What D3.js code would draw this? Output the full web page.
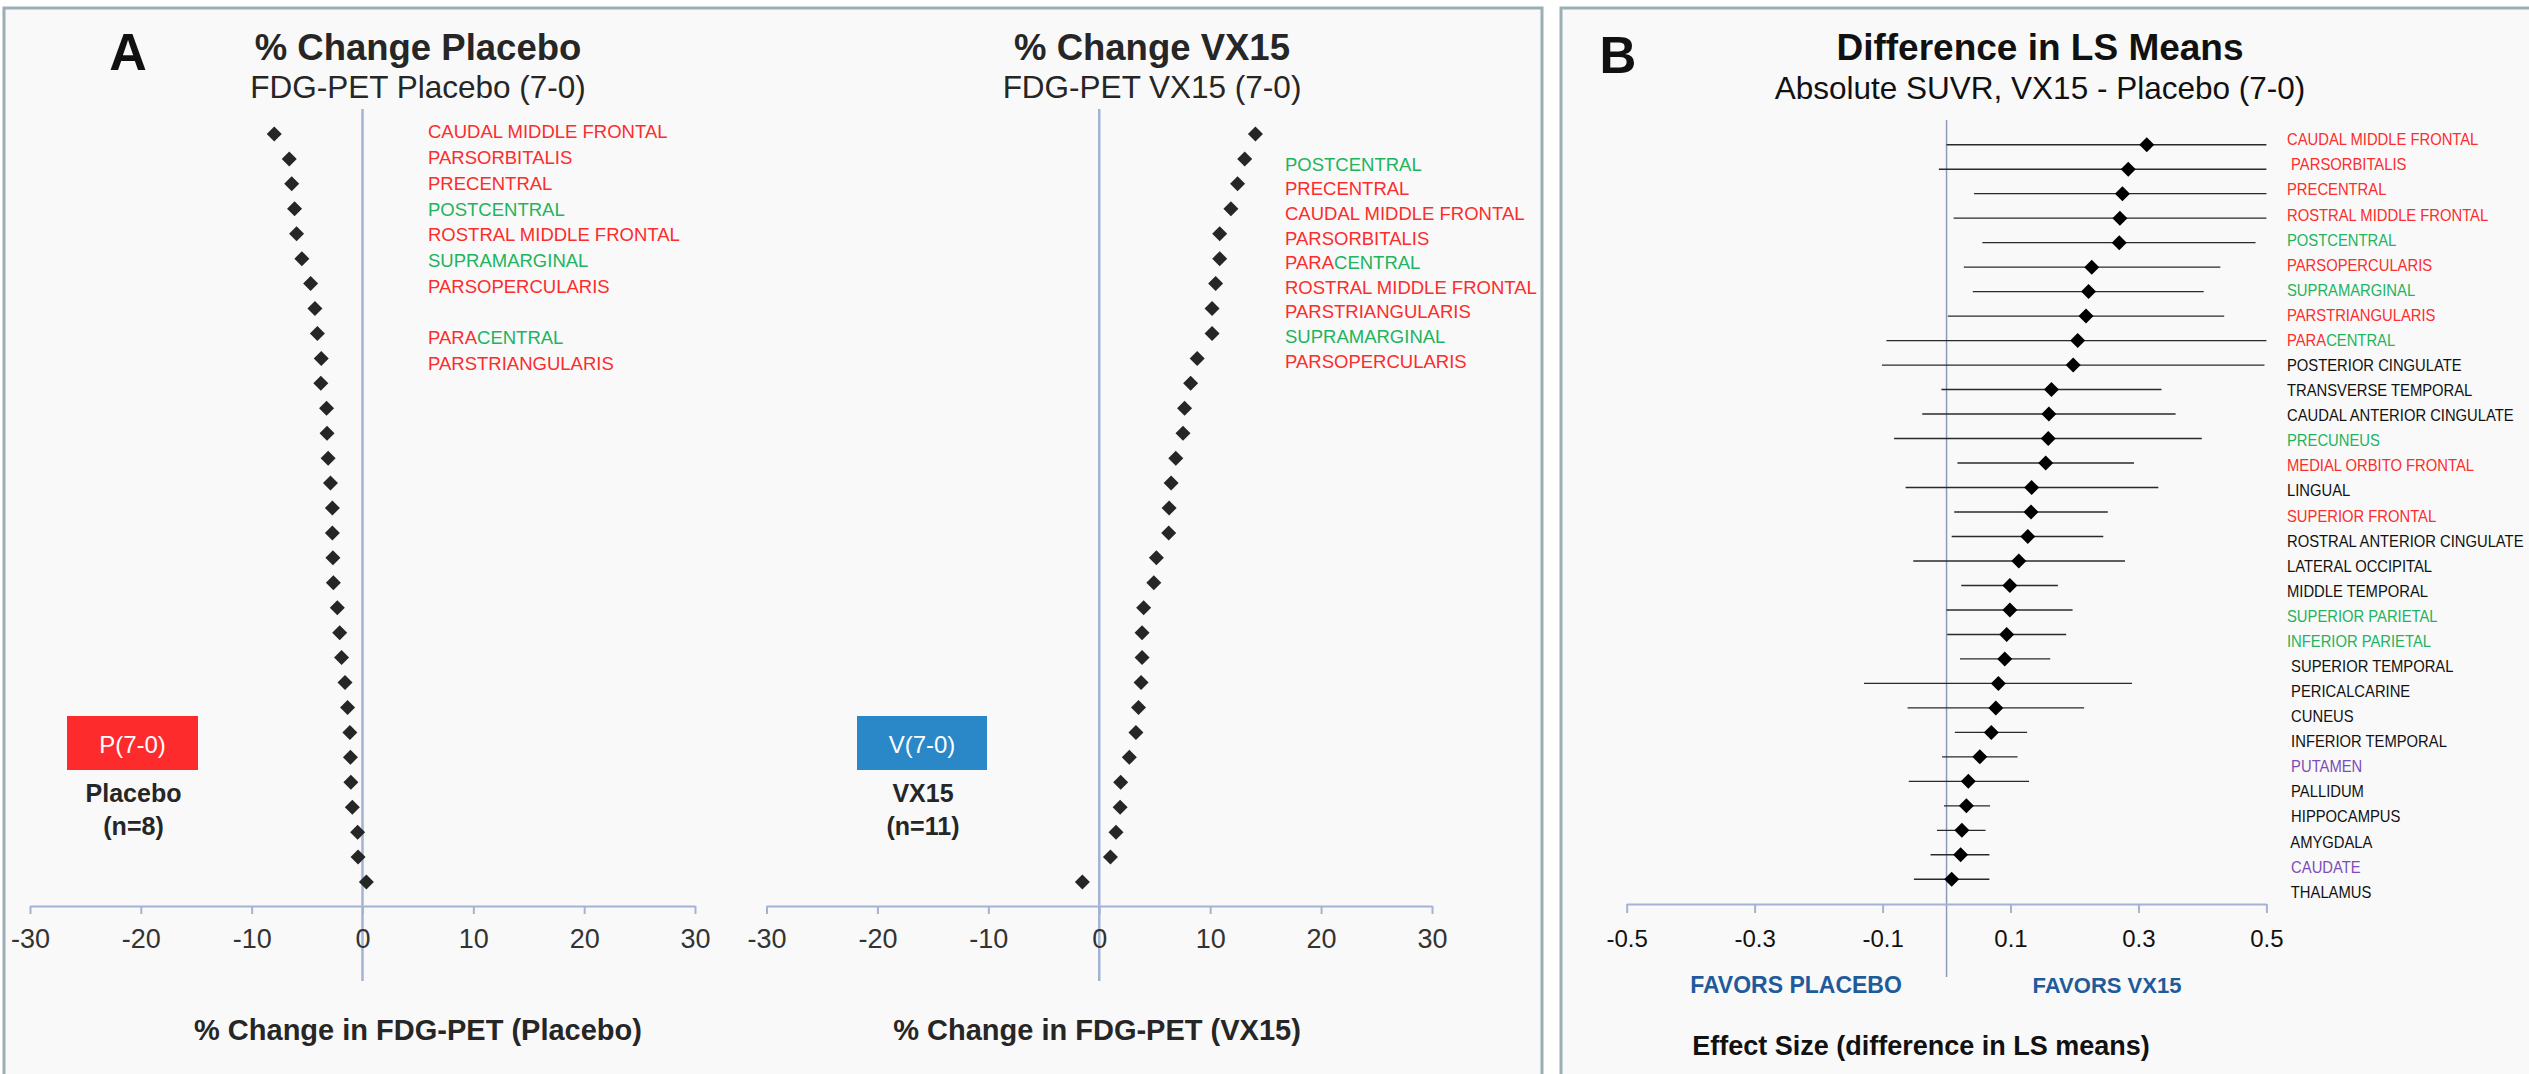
<!DOCTYPE html>
<html>
<head>
<meta charset="utf-8">
<script src="https://cdn.jsdelivr.net/npm/d3@7"></script>
<style>
  body { margin: 0; background: #fff; }
  text { font-family: "Liberation Sans", Arial, sans-serif; }
</style>
</head>
<body>
<svg id="chart"></svg>
<script>
// ---- data ----
// panel A, % change per region, sorted (31 regions)
const placeboChange = [-7.96, -6.61, -6.39, -6.13, -5.95, -5.47, -4.68, -4.29, -4.07, -3.72, -3.76,
  -3.24, -3.20, -3.10, -2.89, -2.72, -2.72, -2.67, -2.63, -2.27, -2.06, -1.89, -1.58, -1.35,
  -1.14, -1.09, -1.05, -0.92, -0.44, -0.40, 0.35];
const vx15Change = [14.08, 13.11, 12.47, 11.87, 10.86, 10.86, 10.49, 10.17, 10.17, 8.83, 8.24, 7.69,
  7.55, 6.90, 6.48, 6.30, 6.26, 5.15, 4.92, 4.00, 3.86, 3.86, 3.77, 3.54, 3.31, 2.71, 1.93,
  1.88, 1.51, 1.01, -1.52];

// labels shown next to the top rows of panel A
const placeboLabelRows = [0, 1, 2, 3, 4, 5, 6, 8, 9];
const placeboLabels = ["CAUDAL MIDDLE FRONTAL", "PARSORBITALIS", "PRECENTRAL", "POSTCENTRAL",
  "ROSTRAL MIDDLE FRONTAL", "SUPRAMARGINAL", "PARSOPERCULARIS", "PARACENTRAL", "PARSTRIANGULARIS"];
const vx15LabelRows = [1, 2, 3, 4, 5, 6, 7, 8, 9];
const vx15Labels = ["POSTCENTRAL", "PRECENTRAL", "CAUDAL MIDDLE FRONTAL", "PARSORBITALIS",
  "PARACENTRAL", "ROSTRAL MIDDLE FRONTAL", "PARSTRIANGULARIS", "SUPRAMARGINAL", "PARSOPERCULARIS"];

// panel B, difference in LS means (VX15 - placebo) with interval
const regionsB = ["CAUDAL MIDDLE FRONTAL", " PARSORBITALIS", "PRECENTRAL", "ROSTRAL MIDDLE FRONTAL",
  "POSTCENTRAL", "PARSOPERCULARIS", "SUPRAMARGINAL", "PARSTRIANGULARIS", "PARACENTRAL",
  "POSTERIOR CINGULATE", "TRANSVERSE TEMPORAL", "CAUDAL ANTERIOR CINGULATE", "PRECUNEUS",
  "MEDIAL ORBITO FRONTAL", "LINGUAL", "SUPERIOR FRONTAL", "ROSTRAL ANTERIOR CINGULATE",
  "LATERAL OCCIPITAL", "MIDDLE TEMPORAL", "SUPERIOR PARIETAL", "INFERIOR PARIETAL",
  " SUPERIOR TEMPORAL", " PERICALCARINE", " CUNEUS", " INFERIOR TEMPORAL", " PUTAMEN",
  " PALLIDUM", " HIPPOCAMPUS", " AMYGDALA", " CAUDATE", " THALAMUS"];
const lsMeanDiff = [0.313, 0.284, 0.275, 0.271, 0.270, 0.227, 0.222, 0.218, 0.205, 0.198, 0.164,
  0.160, 0.159, 0.155, 0.133, 0.132, 0.127, 0.113, 0.099, 0.099, 0.094, 0.091, 0.081, 0.077,
  0.070, 0.052, 0.034, 0.031, 0.024, 0.022, 0.008];
const ciLow = [0.000, -0.012, 0.043, 0.011, 0.056, 0.027, 0.041, 0.002, -0.094, -0.101, -0.008,
  -0.038, -0.082, 0.017, -0.064, 0.012, 0.008, -0.052, 0.023, 0.000, 0.001, 0.021, -0.129,
  -0.061, 0.013, -0.007, -0.059, -0.004, -0.015, -0.025, -0.051];
const ciHigh = [0.50, 0.50, 0.50, 0.50, 0.483, 0.428, 0.402, 0.434, 0.50, 0.497, 0.336, 0.358,
  0.399, 0.293, 0.331, 0.252, 0.245, 0.279, 0.174, 0.197, 0.187, 0.162, 0.290, 0.215, 0.126,
  0.111, 0.129, 0.068, 0.061, 0.067, 0.067];

const ticksA = [-30, -20, -10, 0, 10, 20, 30];
const ticksB = [-0.5, -0.3, -0.1, 0.1, 0.3, 0.5];

// region colour groups
const frontal = ["CAUDAL MIDDLE FRONTAL", "PARSORBITALIS", "PRECENTRAL", "ROSTRAL MIDDLE FRONTAL",
  "PARSOPERCULARIS", "PARSTRIANGULARIS", "MEDIAL ORBITO FRONTAL", "SUPERIOR FRONTAL"];
const parietal = ["POSTCENTRAL", "SUPRAMARGINAL", "PRECUNEUS", "SUPERIOR PARIETAL", "INFERIOR PARIETAL"];
const basal = ["PUTAMEN", "CAUDATE"];

const RED = "#fb2d2d", GREEN = "#22b35e", PURPLE = "#7d4cb8", INK = "#262626";
const AXIS = "#a4b3d3";

// ---- canvas ----
const W = 2529, H = 1074;
const svg = d3.select("#chart").attr("width", W).attr("height", H);
svg.append("rect").attr("width", W).attr("height", H).attr("fill", "#fff");

// panels with border on left / top / right
svg.append("rect").attr("x", 4).attr("y", 8).attr("width", 1538).attr("height", H).attr("fill", "#f9f9f9");
svg.append("rect").attr("x", 1561).attr("y", 8).attr("width", W - 1561).attr("height", H).attr("fill", "#f9f9f9");
svg.append("path").attr("d", `M4,${H}V8H1542V${H}`).attr("fill", "none").attr("stroke", "#9cadb5").attr("stroke-width", 3);
svg.append("path").attr("d", `M1561,${H}V8H${W + 5}`).attr("fill", "none").attr("stroke", "#9cadb5").attr("stroke-width", 3);

const diamond = "M0,-7.5L7.5,0L0,7.5L-7.5,0Z";

function colourOf(name) {
  const n = name.trim();
  if (frontal.includes(n)) return RED;
  if (parietal.includes(n)) return GREEN;
  if (basal.includes(n)) return PURPLE;
  return "#111";
}

// writes a region name, PARACENTRAL gets split colours
function regionText(sel) {
  sel.each(function (d) {
    const t = d3.select(this);
    const name = d.name;
    if (name.trim() === "PARACENTRAL") {
      const lead = name.slice(0, name.indexOf("P"));
      t.append("tspan").attr("fill", RED).text(lead + "PARA");
      t.append("tspan").attr("fill", GREEN).text("CENTRAL");
    } else {
      t.attr("fill", colourOf(name)).text(name);
    }
  });
}

// ---- panel A ----
const rowsA = d3.scalePoint().domain(d3.range(31)).range([134, 882]);

function changePanel(opt) {
  const x = d3.scaleLinear().domain([-30, 30]).range(opt.range);
  const g = svg.append("g");

  // zero line
  g.append("line")
    .attr("x1", x(0)).attr("x2", x(0)).attr("y1", 109).attr("y2", 981)
    .attr("stroke", AXIS).attr("stroke-width", 2.5);

  // axis
  const ax = g.append("g").attr("transform", "translate(0,906)")
    .call(d3.axisBottom(x).tickValues(ticksA).tickFormat(d => String(d))
      .tickSizeOuter(0).tickSizeInner(8).tickPadding(15));
  ax.select(".domain").attr("stroke", AXIS).attr("stroke-width", 2);
  ax.selectAll(".tick line").attr("stroke", AXIS).attr("stroke-width", 2);
  ax.selectAll(".tick text").attr("font-size", 27).attr("fill", "#333")
    .attr("font-family", "Liberation Sans, Arial, sans-serif");

  // points
  g.selectAll("path.pt").data(opt.values).join("path").attr("class", "pt")
    .attr("d", diamond)
    .attr("transform", (d, i) => `translate(${x(d)},${rowsA(i)})`)
    .attr("fill", INK);

  // labels
  const ly = d3.scalePoint().domain(d3.range(31)).range(opt.labelRange);
  g.selectAll("text.lab").data(opt.labels.map((n, i) => ({ name: n, row: opt.labelRows[i] })))
    .join("text").attr("class", "lab")
    .attr("x", opt.labelX).attr("y", d => ly(d.row) + 6.7)
    .attr("font-size", 18.5)
    .call(regionText);

  // titles
  g.append("text").attr("x", opt.titleX).attr("y", 60).attr("text-anchor", "middle")
    .attr("font-size", 36.5).attr("font-weight", "bold").attr("fill", INK).text(opt.title);
  g.append("text").attr("x", opt.titleX).attr("y", 98).attr("text-anchor", "middle")
    .attr("font-size", 31.5).attr("fill", INK).text(opt.subtitle);
  g.append("text").attr("x", opt.xTitleX).attr("y", 1040).attr("text-anchor", "middle")
    .attr("font-size", 29).attr("font-weight", "bold").attr("fill", INK).text(opt.xTitle);

  // group badge
  g.append("rect").attr("x", opt.box[0]).attr("y", 716).attr("width", opt.box[1] - opt.box[0])
    .attr("height", 54).attr("fill", opt.boxColour);
  const bx = (opt.box[0] + opt.box[1]) / 2;
  g.append("text").attr("x", bx).attr("y", 752.5).attr("text-anchor", "middle")
    .attr("font-size", 24).attr("fill", "#fff").text(opt.boxText);
  g.append("text").attr("x", bx + 1).attr("y", 802).attr("text-anchor", "middle")
    .attr("font-size", 25).attr("font-weight", "bold").attr("fill", INK).text(opt.group);
  g.append("text").attr("x", bx + 1).attr("y", 835).attr("text-anchor", "middle")
    .attr("font-size", 25).attr("font-weight", "bold").attr("fill", INK).text(opt.n);
}

changePanel({
  range: [30, 695], values: placeboChange,
  labels: placeboLabels, labelRows: placeboLabelRows, labelRange: [131.7, 902.7], labelX: 428,
  title: "% Change Placebo", subtitle: "FDG-PET Placebo (7-0)", titleX: 418,
  xTitle: "% Change in FDG-PET (Placebo)", xTitleX: 418,
  box: [67, 198], boxColour: "#fd2b2b", boxText: "P(7-0)", group: "Placebo", n: "(n=8)"
});
changePanel({
  range: [766.5, 1432], values: vx15Change,
  labels: vx15Labels, labelRows: vx15LabelRows, labelRange: [139.4, 877.4], labelX: 1285,
  title: "% Change VX15", subtitle: "FDG-PET VX15 (7-0)", titleX: 1152,
  xTitle: "% Change in FDG-PET (VX15)", xTitleX: 1097,
  box: [857, 987], boxColour: "#2a87c8", boxText: "V(7-0)", group: "VX15", n: "(n=11)"
});

svg.append("text").attr("x", 128).attr("y", 70).attr("text-anchor", "middle")
  .attr("font-size", 52).attr("font-weight", "bold").attr("fill", "#111").text("A");

// ---- panel B ----
const xB = d3.scaleLinear().domain([-0.5, 0.5]).range([1626.7, 2266.4]);
const rowsB = d3.scalePoint().domain(d3.range(31)).range([144.7, 879.3]);
const labB = d3.scalePoint().domain(d3.range(31)).range([139.3, 891.7]);
const gB = svg.append("g");

gB.append("line")
  .attr("x1", xB(0)).attr("x2", xB(0)).attr("y1", 120).attr("y2", 977)
  .attr("stroke", "#8c9ab8").attr("stroke-width", 1.5);

const axB = gB.append("g").attr("transform", "translate(0,904)")
  .call(d3.axisBottom(xB).tickValues(ticksB).tickFormat(d => d.toFixed(1))
    .tickSizeOuter(0).tickSizeInner(9).tickPadding(17));
axB.select(".domain").attr("stroke", AXIS).attr("stroke-width", 2);
axB.selectAll(".tick line").attr("stroke", AXIS).attr("stroke-width", 2);
axB.selectAll(".tick text").attr("font-size", 24).attr("fill", "#111")
  .attr("font-family", "Liberation Sans, Arial, sans-serif");

const rowsData = regionsB.map((name, i) => ({ name, i, m: lsMeanDiff[i], lo: ciLow[i], hi: ciHigh[i] }));

gB.selectAll("line.ci").data(rowsData).join("line").attr("class", "ci")
  .attr("x1", d => xB(d.lo)).attr("x2", d => xB(d.hi))
  .attr("y1", d => rowsB(d.i)).attr("y2", d => rowsB(d.i))
  .attr("stroke", "#2a2a2a").attr("stroke-width", 1.4);

gB.selectAll("path.pt").data(rowsData).join("path").attr("class", "pt")
  .attr("d", diamond)
  .attr("transform", d => `translate(${xB(d.m)},${rowsB(d.i)})`)
  .attr("fill", "#000");

// region names, narrowed a bit (the source uses a condensed face here)
gB.selectAll("text.lab").data(rowsData).join("text").attr("class", "lab")
  .attr("transform", d => `translate(2287,${labB(d.i) + 6}) scale(0.87,1)`)
  .attr("font-size", 17).style("white-space", "pre")
  .call(regionText);

gB.append("text").attr("x", 2040).attr("y", 60).attr("text-anchor", "middle")
  .attr("font-size", 37).attr("font-weight", "bold").attr("fill", "#111").text("Difference in LS Means");
gB.append("text").attr("x", 2040).attr("y", 99).attr("text-anchor", "middle")
  .attr("font-size", 31.5).attr("fill", "#111").text("Absolute SUVR, VX15 - Placebo (7-0)");
gB.append("text").attr("x", 1618).attr("y", 73).attr("text-anchor", "middle")
  .attr("font-size", 51).attr("font-weight", "bold").attr("fill", "#111").text("B");

gB.append("text").attr("x", 1796).attr("y", 993).attr("text-anchor", "middle")
  .attr("font-size", 23).attr("font-weight", "bold").attr("fill", "#1f5b9b").text("FAVORS PLACEBO");
gB.append("text").attr("x", 2107).attr("y", 993).attr("text-anchor", "middle")
  .attr("font-size", 22).attr("font-weight", "bold").attr("fill", "#1f5b9b").text("FAVORS VX15");
gB.append("text").attr("x", 1921).attr("y", 1055).attr("text-anchor", "middle")
  .attr("font-size", 27).attr("font-weight", "bold").attr("fill", "#111")
  .text("Effect Size (difference in LS means)");
</script>
</body>
</html>
